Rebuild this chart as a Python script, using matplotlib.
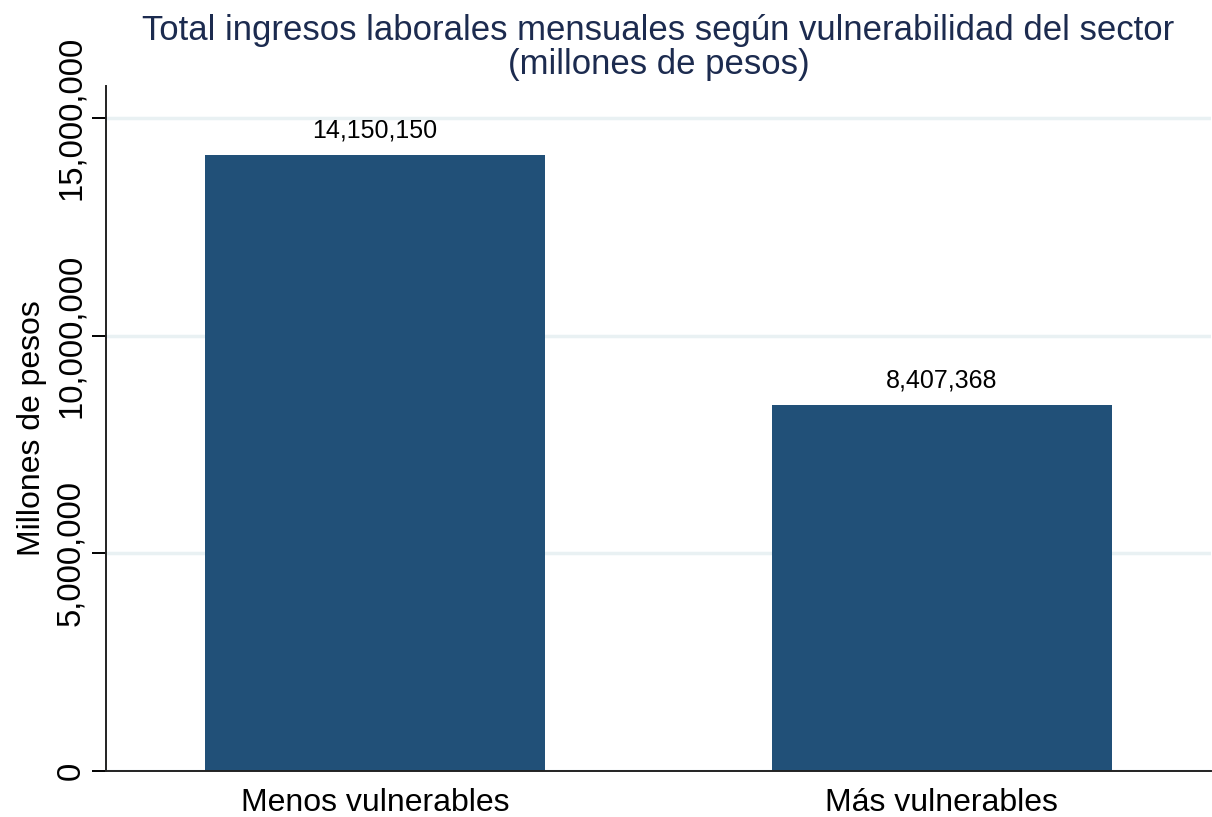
import matplotlib
matplotlib.use('Agg')
import matplotlib.pyplot as plt
from matplotlib.ticker import FuncFormatter

plt.rcParams['font.family'] = ['Liberation Sans', 'DejaVu Sans']

# data
categories = ['Menos vulnerables', 'Más vulnerables']
values = [14150150, 8407368]
yticks = [0, 5000000, 10000000, 15000000]

bar_color = '#215078'
title_color = '#1c2b4f'
grid_color = '#e9f1f3'

fig = plt.figure(figsize=(12.12, 8.17), dpi=100)
ax = fig.add_axes([0.0875, 0.0563, 0.9115, 0.8384])

x = list(range(len(categories)))
bars = ax.bar(x, values, width=0.6, color=bar_color, zorder=2)
for b, v in zip(bars, values):
    ax.annotate(f'{v:,}', (b.get_x() + b.get_width() / 2, v), xytext=(0, 9),
                textcoords='offset points', ha='center', va='bottom', fontsize=18)

ax.set_xlim(-0.475, 1.475)
ax.set_ylim(0, 15730000)
ax.set_yticks(yticks)
ax.yaxis.set_major_formatter(FuncFormatter(lambda v, p: f'{int(v):,}'))
ax.set_xticks(x)
ax.set_xticklabels(categories, fontsize=23)
ax.tick_params(axis='x', length=0, pad=12)
ax.tick_params(axis='y', length=10, width=1.4, labelsize=23.7, pad=4)
for lab in ax.get_yticklabels():
    lab.set_rotation(90)
    lab.set_va('center')

ax.grid(axis='y', color=grid_color, linewidth=2.5, zorder=0)
ax.set_axisbelow(True)
for s in ['top', 'right']:
    ax.spines[s].set_visible(False)
ax.spines['left'].set_linewidth(1.4)
ax.spines['bottom'].set_linewidth(1.4)
ax.spines['left'].set_color('#222222')
ax.spines['bottom'].set_color('#222222')

ax.set_ylabel('Millones de pesos', fontsize=23, labelpad=6)
ax.set_title('Total ingresos laborales mensuales según vulnerabilidad del sector\n(millones de pesos)',
             fontsize=25, color=title_color, pad=9, linespacing=1.02)

fig.savefig('out.png', dpi=100)
